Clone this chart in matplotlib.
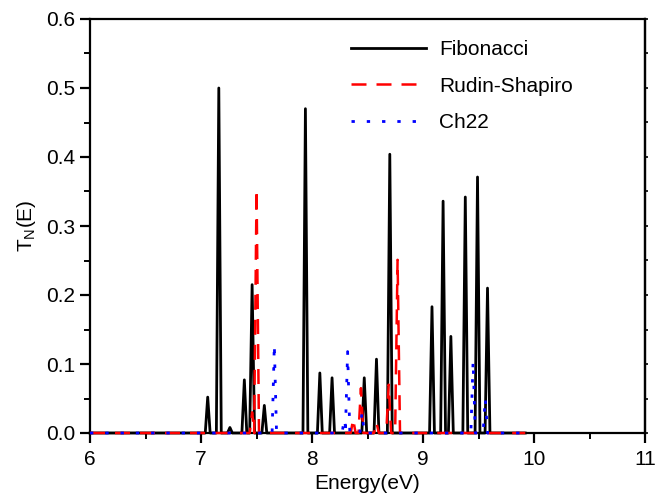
import matplotlib.pyplot as plt
from matplotlib.ticker import MultipleLocator

# Peak positions (eV) and peak transmission
fib_E = [7.06, 7.16, 7.26, 7.39, 7.46, 7.57, 7.94, 8.07, 8.18, 8.47, 8.58, 8.70,
         9.08, 9.18, 9.25, 9.38, 9.49, 9.58]
fib_T = [0.052, 0.500, 0.008, 0.077, 0.215, 0.040, 0.470, 0.087, 0.080, 0.080,
         0.107, 0.404, 0.183, 0.336, 0.140, 0.342, 0.371, 0.210]

rs_E = [7.46, 7.50, 8.37, 8.44, 8.58, 8.69, 8.77]
rs_T = [0.030, 0.353, 0.020, 0.065, 0.015, 0.070, 0.251]

ch_E = [7.66, 8.29, 8.32, 8.45, 9.45, 9.56]
ch_T = [0.128, 0.020, 0.118, 0.030, 0.104, 0.050]

E_range = [6.0, 9.92]

plt.rcParams['font.family'] = ['Liberation Sans', 'DejaVu Sans']
plt.rcParams['mathtext.fontset'] = 'custom'
plt.rcParams['mathtext.rm'] = 'Liberation Sans'
plt.rcParams['mathtext.default'] = 'regular'


def spectrum(centers, heights, hw=0.02):
    # narrow peaks on a zero baseline
    xs = [E_range[0]]
    ys = [0.0]
    for c, h in zip(centers, heights):
        xs += [c - hw, c, c + hw]
        ys += [0.0, h, 0.0]
    xs.append(E_range[1])
    ys.append(0.0)
    return xs, ys


fig = plt.figure(figsize=(6.57, 5), dpi=100)
ax = fig.add_axes([0.137, 0.134, 0.845, 0.828])

x, y = spectrum(fib_E, fib_T, hw=0.022)
ax.plot(x, y, color="black", lw=2.0, label="Fibonacci", zorder=3, clip_on=False)
x, y = spectrum(rs_E, rs_T, hw=0.022)
ax.plot(x, y, color="red", lw=1.8, ls=(0, (6, 4)), label="Rudin-Shapiro",
        zorder=4, clip_on=False)
x, y = spectrum(ch_E, ch_T, hw=0.02)
ax.plot(x, y, color="blue", lw=2.0, ls=(0, (1.2, 4.3)), label="Ch22",
        zorder=4, clip_on=False)

ax.set_xlim(6, 11)
ax.set_ylim(0, 0.6)
ax.xaxis.set_major_locator(MultipleLocator(1))
ax.xaxis.set_minor_locator(MultipleLocator(0.5))
ax.yaxis.set_major_locator(MultipleLocator(0.1))
ax.yaxis.set_minor_locator(MultipleLocator(0.05))
ax.yaxis.set_major_formatter(plt.FormatStrFormatter('%.1f'))

for s in ax.spines.values():
    s.set_linewidth(1.6)
ax.tick_params(which='major', direction='out', length=7, width=1.6, labelsize=15)
ax.tick_params(axis='x', which='major', pad=5)
ax.tick_params(which='minor', direction='out', length=4, width=1.4)

sec = ax.secondary_yaxis('right')
sec.yaxis.set_major_locator(MultipleLocator(0.05))
sec.tick_params(direction='out', length=2, width=1.2, labelright=False)
sec.spines['right'].set_linewidth(1.6)

ax.set_xlabel("Energy(eV)", fontsize=15, labelpad=4)
ax.set_ylabel("T$_\\mathrm{N}$(E)", fontsize=15, labelpad=6)

ax.legend(loc='upper left', bbox_to_anchor=(0.437, 0.995), frameon=False,
          fontsize=15, handlelength=3.6, labelspacing=0.85, handletextpad=0.6)

plt.savefig("out.png", dpi=100)
